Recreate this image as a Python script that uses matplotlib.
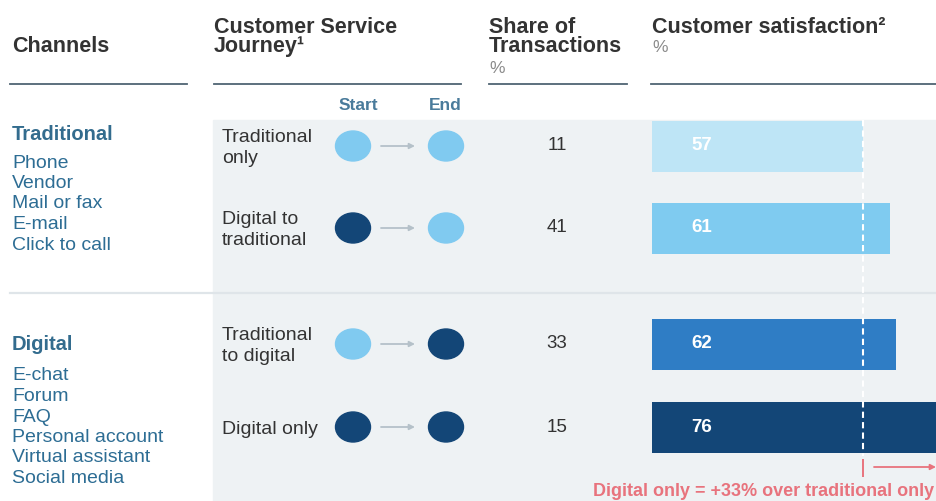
import matplotlib.pyplot as plt
from matplotlib.patches import Ellipse, Rectangle

plt.rcParams['font.family'] = ['Liberation Sans', 'DejaVu Sans']

# data
traditional_channels = ["Phone", "Vendor", "Mail or fax", "E-mail", "Click to call"]
digital_channels = ["E-chat", "Forum", "FAQ", "Personal account", "Virtual assistant", "Social media"]
journeys = ["Traditional\nonly", "Digital to\ntraditional", "Traditional\nto digital", "Digital only"]
journey_start = ["traditional", "digital", "traditional", "digital"]
journey_end = ["traditional", "traditional", "digital", "digital"]
share = [11, 41, 33, 15]
satisfaction = [57, 61, 62, 76]
uplift_note = "Digital only = +33% over traditional only"

# layout (pixels, figure is 937x501)
W, H = 937, 501
row_y = [146, 228, 344, 427]
bar_colors = ["#bee5f6", "#7fcbf0", "#2f7dc5", "#134677"]
dot_colors = {"traditional": "#80caf0", "digital": "#134677"}
head_c = "#333333"
blue_txt = "#2d6d94"
pink = "#e8737d"
px_per_unit = 6.6
bar_origin = 25

fig = plt.figure(figsize=(W / 100, H / 100), dpi=100)
ax = fig.add_axes([0, 0, 1, 1])
ax.set_xlim(0, W)
ax.set_ylim(H, 0)
ax.axis("off")

# background panel and divider
ax.add_patch(Rectangle((213, 120), W - 213, H - 120, color="#eef2f4", zorder=0))
ax.plot([10, W], [293, 293], color="#dfe5e9", lw=1.6, zorder=1)

# headers
hf = dict(fontsize=15.5, fontweight="bold", color=head_c, va="center")
ax.text(12, 46, "Channels", **hf)
ax.text(214, 27, "Customer Service", **hf)
ax.text(214, 46, "Journey¹", **hf)
ax.text(489, 27, "Share of", **hf)
ax.text(489, 46, "Transactions", **hf)
ax.text(489, 68, "%", fontsize=12.5, color="#8a8a8a", va="center")
ax.text(652, 27, "Customer satisfaction²", **hf)
ax.text(652, 47, "%", fontsize=12.5, color="#8a8a8a", va="center")
for x0, x1 in [(10, 187), (214, 461), (489, 627), (651, W)]:
    ax.plot([x0, x1], [84, 84], color="#4f6473", lw=1.3)

ax.text(358, 105, "Start", fontsize=12.5, fontweight="bold", color="#4a7b9b", ha="center", va="center")
ax.text(445, 105, "End", fontsize=12.5, fontweight="bold", color="#4a7b9b", ha="center", va="center")

# channel lists
ax.text(12, 135, "Traditional", fontsize=14.5, fontweight="bold", color="#336c8e", va="center")
for i, c in enumerate(traditional_channels):
    ax.text(12, 163 + i * 20.5, c, fontsize=14, color=blue_txt, va="center")
ax.text(12, 345, "Digital", fontsize=14.5, fontweight="bold", color="#336c8e", va="center")
for i, c in enumerate(digital_channels):
    ax.text(12, 376 + i * 20.5, c, fontsize=14, color=blue_txt, va="center")

# journey rows
for y, lab, s, e, n in zip(row_y, journeys, journey_start, journey_end, share):
    ax.text(222, y + 2, lab, fontsize=14, color=head_c, va="center", linespacing=1.3)
    ax.add_patch(Ellipse((353, y), 35, 30, color=dot_colors[s], zorder=3))
    ax.add_patch(Ellipse((446, y), 35, 30, color=dot_colors[e], zorder=3))
    ax.annotate("", xy=(415, y), xytext=(381, y),
                arrowprops=dict(arrowstyle="-|>", color="#b5c1c9", lw=1.3,
                                mutation_scale=8, shrinkA=0, shrinkB=0))
    ax.text(557, y, str(n), fontsize=13.5, color=head_c, ha="center", va="center")

# satisfaction bars on their own axis (truncated at bar_origin)
bx = fig.add_axes([652 / W, 0, (W - 652) / W, 1])
bx.set_xlim(bar_origin, bar_origin + (W - 652) / px_per_unit)
bx.set_ylim(H, 0)
bx.axis("off")
bx.patch.set_alpha(0)
bx.barh(row_y, satisfaction, height=51, color=bar_colors, zorder=2)
label_x = bar_origin + (702 - 652) / px_per_unit
for y, v in zip(row_y, satisfaction):
    bx.text(label_x, y, str(v), fontsize=13.5, fontweight="bold", color="white",
            ha="center", va="center", zorder=5)
bx.vlines(satisfaction[0], 120, 456, colors="white", linestyles=(0, (3, 2)), lw=1.5, zorder=4)

# uplift marker
bx.vlines(satisfaction[0], 459, 477, colors=pink, lw=1.4)
ax.annotate("", xy=(936, 467), xytext=(874, 467),
            arrowprops=dict(arrowstyle="-|>", color=pink, lw=1.3,
                            mutation_scale=8, shrinkA=0, shrinkB=0))
ax.text(593, 491, uplift_note, fontsize=13, fontweight="bold", color=pink, va="center")

fig.savefig("out.png", dpi=100)
